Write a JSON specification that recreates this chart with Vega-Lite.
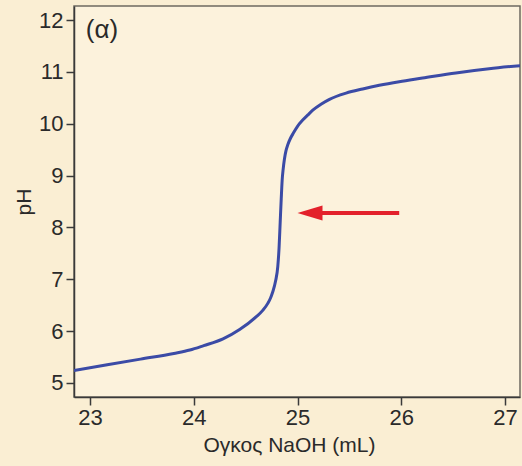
{
  "$schema": "https://vega.github.io/schema/vega-lite/v6.json",
  "autosize": "none",
  "width": 446,
  "height": 391,
  "padding": {"left": 74, "top": 6, "right": 2, "bottom": 69},
  "background": "#FAEED3",
  "config": {
    "view": {"fill": "#FCF2DC", "stroke": "#6E6A60", "strokeWidth": 1.5},
    "font": "Liberation Sans",
    "axis": {
      "grid": false,
      "domainColor": "#3A3A3A",
      "domainWidth": 1.5,
      "tickColor": "#3A3A3A",
      "tickWidth": 1.5,
      "tickSize": 8,
      "labelFont": "Liberation Sans",
      "labelFontSize": 22,
      "labelColor": "#2A2A2A",
      "titleFont": "Liberation Sans",
      "titleFontSize": 21,
      "titleFontWeight": "normal",
      "titleColor": "#2A2A2A"
    }
  },
  "datasets": {
    "curve": [
      {"V": 22.846, "pH": 5.24},
      {"V": 23.166, "pH": 5.35},
      {"V": 23.487, "pH": 5.46},
      {"V": 23.808, "pH": 5.57},
      {"V": 23.962, "pH": 5.635},
      {"V": 24.096, "pH": 5.72},
      {"V": 24.282, "pH": 5.85},
      {"V": 24.442, "pH": 6.03},
      {"V": 24.603, "pH": 6.28},
      {"V": 24.665, "pH": 6.4},
      {"V": 24.715, "pH": 6.54},
      {"V": 24.74, "pH": 6.64},
      {"V": 24.76, "pH": 6.75},
      {"V": 24.79, "pH": 6.98},
      {"V": 24.81, "pH": 7.25},
      {"V": 24.822, "pH": 7.6},
      {"V": 24.833, "pH": 8.1},
      {"V": 24.843, "pH": 8.55},
      {"V": 24.852, "pH": 8.91},
      {"V": 24.862, "pH": 9.13},
      {"V": 24.874, "pH": 9.32},
      {"V": 24.889, "pH": 9.48},
      {"V": 24.907, "pH": 9.6},
      {"V": 24.93, "pH": 9.71},
      {"V": 24.96, "pH": 9.82},
      {"V": 25.0, "pH": 9.95},
      {"V": 25.05, "pH": 10.07},
      {"V": 25.1, "pH": 10.17},
      {"V": 25.147, "pH": 10.26},
      {"V": 25.23, "pH": 10.38},
      {"V": 25.308, "pH": 10.47},
      {"V": 25.468, "pH": 10.59},
      {"V": 25.628, "pH": 10.67},
      {"V": 25.788, "pH": 10.74},
      {"V": 25.98, "pH": 10.81},
      {"V": 26.205, "pH": 10.88},
      {"V": 26.526, "pH": 10.98},
      {"V": 26.846, "pH": 11.06},
      {"V": 27.144, "pH": 11.12}
    ],
    "arrow": [
      {"start": 25.98, "end": 25.22, "head": 25.12, "pH": 8.28}
    ],
    "panel": [
      {"label": "(α)"}
    ]
  },
  "layer": [
    {
      "data": {"name": "curve"},
      "mark": {"type": "line", "color": "#3B4BA6", "strokeWidth": 3, "interpolate": "monotone", "clip": true},
      "encoding": {
        "x": {
          "field": "V", "type": "quantitative",
          "scale": {"domain": [22.846, 27.144], "nice": false, "zero": false},
          "axis": {"values": [23, 24, 25, 26, 27], "format": "d", "title": "Ογκος NaOH (mL)", "labelPadding": 2, "titlePadding": 6, "titleAnchor": "middle", "titleX": 215}
        },
        "y": {
          "field": "pH", "type": "quantitative",
          "scale": {"domain": [4.73, 12.27], "nice": false, "zero": false},
          "axis": {"values": [5, 6, 7, 8, 9, 10, 11, 12], "format": "d", "title": "pH", "labelPadding": 3, "titlePadding": 4}
        }
      }
    },
    {
      "data": {"name": "arrow"},
      "mark": {"type": "rule", "color": "#E3212B", "strokeWidth": 4},
      "encoding": {
        "x": {"field": "start", "type": "quantitative"},
        "x2": {"field": "end"},
        "y": {"field": "pH", "type": "quantitative"}
      }
    },
    {
      "data": {"name": "arrow"},
      "mark": {"type": "point", "filled": true, "color": "#E3212B", "opacity": 1, "shape": "M-1,0L1,-0.6L1,0.6Z", "size": 625},
      "encoding": {
        "x": {"field": "head", "type": "quantitative"},
        "y": {"field": "pH", "type": "quantitative"}
      }
    },
    {
      "data": {"name": "panel"},
      "mark": {"type": "text", "fontSize": 26, "font": "Liberation Sans", "color": "#2A2A2A", "align": "left", "baseline": "middle"},
      "encoding": {
        "text": {"field": "label"},
        "x": {"datum": 22.96, "type": "quantitative"},
        "y": {"datum": 11.8, "type": "quantitative"}
      }
    }
  ]
}
